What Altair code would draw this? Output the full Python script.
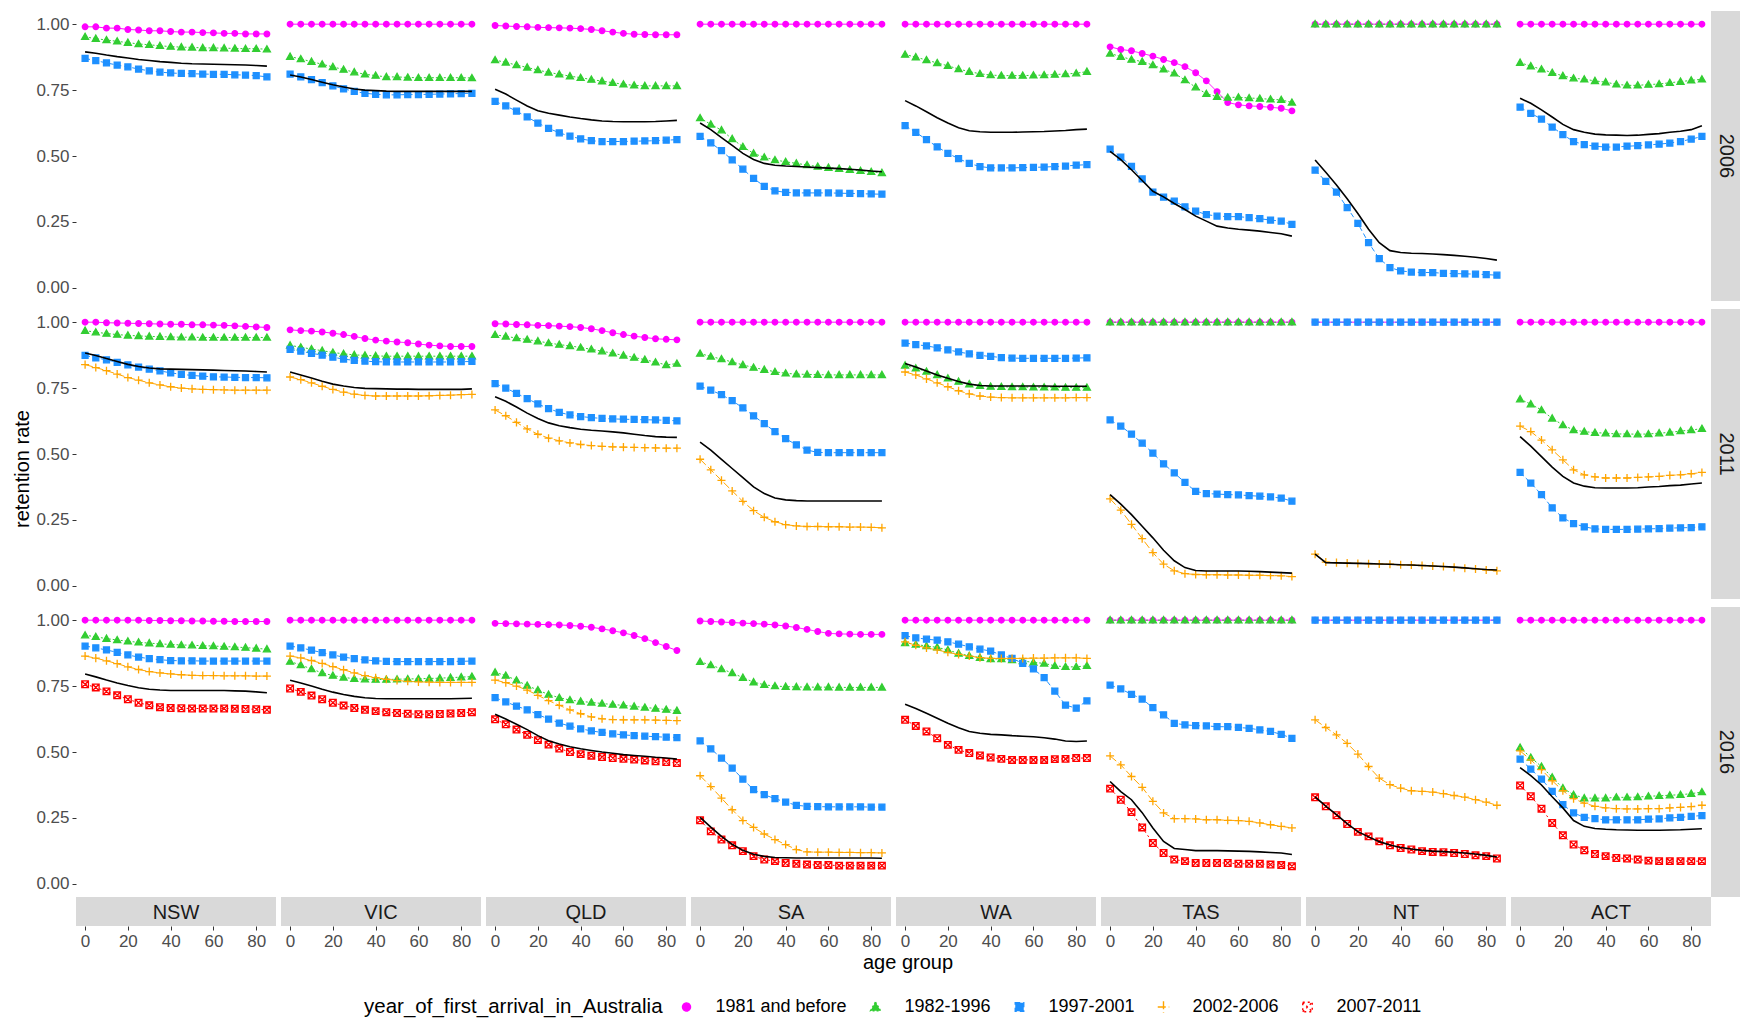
import altair as alt
import pandas as pd

AGES = [0, 5, 10, 15, 20, 25, 30, 35, 40, 45, 50, 55, 60, 65, 70, 75, 80, 85]
STATES = ["NSW", "VIC", "QLD", "SA", "WA", "TAS", "NT", "ACT"]
YEARS = ["2006", "2011", "2016"]
COHORTS = ["1981 and before", "1982-1996", "1997-2001", "2002-2006", "2007-2011"]
KEYS = ["c1981", "c1982", "c1997", "c2002", "c2007"]
X_TICKS = [0, 20, 40, 60, 80]
Y_TICKS = [0.0, 0.25, 0.5, 0.75, 1.0]

FULL = [1.0, 1.0, 1.0, 1.0, 1.0, 1.0, 1.0, 1.0, 1.0, 1.0, 1.0, 1.0, 1.0, 1.0, 1.0, 1.0, 1.0, 1.0]

# ---------------- 2006 ----------------
NSW_2006 = dict(
    c1981=[0.99, 0.99, 0.985, 0.985, 0.98, 0.978, 0.975, 0.975, 0.972, 0.97, 0.97, 0.968, 0.967, 0.965, 0.965, 0.963, 0.963, 0.963],
    c1982=[0.952, 0.945, 0.94, 0.935, 0.93, 0.925, 0.922, 0.918, 0.915, 0.913, 0.912, 0.91, 0.91, 0.909, 0.908, 0.907, 0.907, 0.905],
    c1997=[0.87, 0.862, 0.853, 0.845, 0.838, 0.83, 0.823, 0.818, 0.815, 0.813, 0.812, 0.811, 0.81, 0.81, 0.808, 0.807, 0.805, 0.80],
    total=[0.895, 0.89, 0.883, 0.877, 0.872, 0.866, 0.862, 0.858, 0.855, 0.852, 0.85, 0.849, 0.848, 0.847, 0.846, 0.845, 0.843, 0.841],
)
VIC_2006 = dict(
    c1981=FULL,
    c1982=[0.877, 0.868, 0.858, 0.848, 0.838, 0.828, 0.818, 0.81, 0.805, 0.80, 0.80, 0.798, 0.797, 0.797, 0.797, 0.797, 0.797, 0.796],
    c1997=[0.811, 0.80, 0.79, 0.778, 0.766, 0.755, 0.745, 0.738, 0.734, 0.732, 0.732, 0.733, 0.733, 0.734, 0.735, 0.736, 0.737, 0.738],
    total=[0.807, 0.80, 0.79, 0.78, 0.77, 0.762, 0.754, 0.75, 0.748, 0.746, 0.745, 0.745, 0.745, 0.745, 0.745, 0.745, 0.745, 0.745],
)
QLD_2006 = dict(
    c1981=[0.995, 0.993, 0.991, 0.99, 0.988, 0.987, 0.986, 0.985, 0.983, 0.98, 0.975, 0.97, 0.965, 0.962, 0.961, 0.96, 0.96, 0.96],
    c1982=[0.864, 0.855, 0.845, 0.836, 0.826, 0.817, 0.81, 0.803, 0.797, 0.79, 0.784, 0.778, 0.772, 0.768, 0.766, 0.766, 0.766, 0.766],
    c1997=[0.707, 0.69, 0.67, 0.648, 0.625, 0.605, 0.588, 0.575, 0.565, 0.558, 0.555, 0.555, 0.555, 0.556, 0.557, 0.558, 0.56, 0.562],
    total=[0.753, 0.735, 0.712, 0.69, 0.672, 0.662, 0.655, 0.648, 0.642, 0.637, 0.633, 0.631, 0.63, 0.63, 0.63, 0.631, 0.633, 0.635],
)
SA_2006 = dict(
    c1981=FULL,
    c1982=[0.644, 0.62, 0.598, 0.565, 0.535, 0.51, 0.495, 0.485, 0.478, 0.472, 0.466, 0.46, 0.456, 0.452, 0.448, 0.444, 0.44, 0.436],
    c1997=[0.574, 0.55, 0.52, 0.485, 0.45, 0.415, 0.385, 0.368, 0.362, 0.36, 0.36, 0.36, 0.36, 0.359, 0.358, 0.357, 0.356, 0.355],
    total=[0.625, 0.6, 0.57, 0.54, 0.51, 0.487, 0.472, 0.465, 0.462, 0.46, 0.458, 0.456, 0.454, 0.452, 0.45, 0.447, 0.443, 0.44],
)
WA_2006 = dict(
    c1981=FULL,
    c1982=[0.885, 0.875, 0.864, 0.853, 0.842, 0.83, 0.82, 0.812, 0.807, 0.805, 0.805, 0.805, 0.806, 0.807, 0.809, 0.811, 0.814, 0.82],
    c1997=[0.615, 0.59, 0.562, 0.535, 0.51, 0.49, 0.472, 0.46, 0.455, 0.455, 0.455, 0.456, 0.457, 0.458, 0.46, 0.462, 0.465, 0.467],
    total=[0.71, 0.69, 0.668, 0.645, 0.625, 0.607, 0.596, 0.592, 0.59, 0.59, 0.59, 0.591, 0.592, 0.593, 0.595, 0.597, 0.6, 0.602],
)
TAS_2006 = dict(
    c1981=[0.914, 0.904, 0.899, 0.889, 0.879, 0.866, 0.854, 0.839, 0.816, 0.785, 0.744, 0.703, 0.694, 0.69, 0.688, 0.685, 0.681, 0.671],
    c1982=[0.889, 0.877, 0.866, 0.858, 0.845, 0.829, 0.814, 0.788, 0.761, 0.736, 0.725, 0.722, 0.723, 0.72, 0.718, 0.715, 0.713, 0.703],
    c1997=[0.526, 0.496, 0.461, 0.413, 0.363, 0.344, 0.329, 0.307, 0.291, 0.278, 0.272, 0.27, 0.27, 0.266, 0.262, 0.257, 0.253, 0.241],
    total=[0.518, 0.486, 0.448, 0.407, 0.366, 0.345, 0.32, 0.297, 0.272, 0.253, 0.234, 0.227, 0.222, 0.219, 0.215, 0.21, 0.205, 0.196],
)
NT_2006 = dict(
    c1981=FULL,
    c1982=FULL,
    c1997=[0.446, 0.404, 0.363, 0.304, 0.244, 0.171, 0.111, 0.077, 0.064, 0.06, 0.058, 0.058, 0.055, 0.054, 0.053, 0.052, 0.05, 0.048],
    total=[0.485, 0.438, 0.39, 0.338, 0.282, 0.222, 0.171, 0.141, 0.134, 0.131, 0.13, 0.128, 0.126, 0.123, 0.12, 0.116, 0.111, 0.105],
)
ACT_2006 = dict(
    c1981=FULL,
    c1982=[0.854, 0.841, 0.829, 0.816, 0.804, 0.795, 0.791, 0.785, 0.78, 0.772, 0.768, 0.768, 0.771, 0.773, 0.778, 0.782, 0.787, 0.791],
    c1997=[0.685, 0.662, 0.64, 0.61, 0.581, 0.555, 0.543, 0.537, 0.534, 0.534, 0.537, 0.539, 0.542, 0.545, 0.549, 0.555, 0.564, 0.574],
    total=[0.719, 0.7, 0.675, 0.648, 0.62, 0.6, 0.59, 0.583, 0.58, 0.579, 0.578, 0.579, 0.582, 0.585, 0.59, 0.594, 0.6, 0.615],
)

# ---------------- 2011 ----------------
NSW_2011 = dict(
    c1981=[1.0, 1.0, 0.998, 0.997, 0.996, 0.995, 0.994, 0.993, 0.992, 0.992, 0.99, 0.99, 0.989, 0.988, 0.986, 0.984, 0.982, 0.98],
    c1982=[0.968, 0.962, 0.957, 0.953, 0.95, 0.948, 0.946, 0.945, 0.944, 0.943, 0.943, 0.942, 0.942, 0.942, 0.942, 0.942, 0.942, 0.942],
    c1997=[0.874, 0.865, 0.857, 0.848, 0.838, 0.83, 0.822, 0.815, 0.808, 0.802, 0.798, 0.795, 0.793, 0.792, 0.791, 0.79, 0.79, 0.789],
    c2002=[0.839, 0.828, 0.816, 0.803, 0.79, 0.78, 0.77, 0.762, 0.755, 0.75, 0.747, 0.745, 0.744, 0.743, 0.742, 0.742, 0.742, 0.742],
    total=[0.883, 0.874, 0.862, 0.851, 0.84, 0.832, 0.826, 0.823, 0.822, 0.821, 0.82, 0.819, 0.818, 0.817, 0.816, 0.815, 0.813, 0.811],
)
VIC_2011 = dict(
    c1981=[0.971, 0.968, 0.966, 0.963, 0.958, 0.953, 0.946, 0.938, 0.932, 0.928, 0.925, 0.922, 0.917, 0.913, 0.91, 0.908, 0.908, 0.908],
    c1982=[0.912, 0.905, 0.898, 0.892, 0.885, 0.88, 0.876, 0.874, 0.872, 0.871, 0.871, 0.871, 0.871, 0.871, 0.871, 0.871, 0.871, 0.871],
    c1997=[0.897, 0.89, 0.882, 0.875, 0.867, 0.86, 0.855, 0.852, 0.85, 0.849, 0.849, 0.849, 0.849, 0.849, 0.849, 0.849, 0.85, 0.851],
    c2002=[0.792, 0.782, 0.77, 0.757, 0.745, 0.735, 0.727, 0.722, 0.72, 0.72, 0.72, 0.72, 0.72, 0.721, 0.722, 0.723, 0.725, 0.726],
    total=[0.811, 0.8, 0.788, 0.776, 0.765, 0.758, 0.752, 0.749, 0.748, 0.747, 0.746, 0.746, 0.745, 0.745, 0.745, 0.745, 0.745, 0.747],
)
QLD_2011 = dict(
    c1981=[0.994, 0.993, 0.991, 0.99, 0.988, 0.987, 0.985, 0.983, 0.98, 0.975, 0.968, 0.96, 0.953, 0.947, 0.942, 0.937, 0.935, 0.933],
    c1982=[0.952, 0.946, 0.94, 0.934, 0.928, 0.921, 0.915, 0.91, 0.904, 0.897, 0.89, 0.882, 0.874, 0.866, 0.858, 0.848, 0.838, 0.843],
    c1997=[0.767, 0.75, 0.73, 0.71, 0.69, 0.672, 0.658, 0.648, 0.642, 0.638, 0.635, 0.633, 0.632, 0.631, 0.63, 0.629, 0.628, 0.626],
    c2002=[0.667, 0.645, 0.62, 0.595, 0.575, 0.56, 0.55, 0.542, 0.536, 0.532, 0.529, 0.527, 0.526, 0.525, 0.524, 0.523, 0.522, 0.522],
    total=[0.717, 0.7, 0.678, 0.655, 0.635, 0.618, 0.607, 0.6, 0.594, 0.59, 0.587, 0.584, 0.58, 0.575, 0.57, 0.566, 0.564, 0.563],
)
SA_2011 = dict(
    c1981=FULL,
    c1982=[0.881, 0.87, 0.86, 0.849, 0.838, 0.828, 0.82, 0.812, 0.806, 0.803, 0.802, 0.801, 0.8, 0.8, 0.8, 0.8, 0.8, 0.8],
    c1997=[0.757, 0.742, 0.725, 0.702, 0.675, 0.645, 0.615, 0.585, 0.558, 0.535, 0.515, 0.506, 0.505, 0.505, 0.505, 0.505, 0.505, 0.505],
    c2002=[0.48, 0.44, 0.40, 0.36, 0.32, 0.285, 0.26, 0.243, 0.232, 0.227, 0.225, 0.225, 0.224, 0.224, 0.223, 0.223, 0.222, 0.22],
    total=[0.545, 0.515, 0.48, 0.445, 0.41, 0.375, 0.35, 0.333, 0.326, 0.323, 0.322, 0.322, 0.322, 0.322, 0.322, 0.322, 0.322, 0.322],
)
WA_2011 = dict(
    c1981=FULL,
    c1982=[0.836, 0.825, 0.813, 0.8, 0.787, 0.775, 0.765, 0.759, 0.756, 0.755, 0.754, 0.754, 0.753, 0.753, 0.753, 0.752, 0.752, 0.752],
    c1997=[0.921, 0.915, 0.91, 0.903, 0.895, 0.887, 0.88, 0.874, 0.87, 0.866, 0.864, 0.863, 0.863, 0.863, 0.863, 0.863, 0.864, 0.865],
    c2002=[0.811, 0.8, 0.785, 0.77, 0.755, 0.74, 0.728, 0.72, 0.716, 0.714, 0.713, 0.713, 0.713, 0.713, 0.713, 0.713, 0.714, 0.714],
    total=[0.843, 0.83, 0.815, 0.8, 0.787, 0.775, 0.765, 0.76, 0.758, 0.758, 0.758, 0.758, 0.758, 0.758, 0.757, 0.757, 0.757, 0.757],
)
TAS_2011 = dict(
    c1981=FULL,
    c1982=FULL,
    c1997=[0.629, 0.606, 0.575, 0.541, 0.503, 0.463, 0.428, 0.392, 0.358, 0.35, 0.348, 0.346, 0.345, 0.342, 0.34, 0.337, 0.333, 0.321],
    c2002=[0.33, 0.287, 0.233, 0.179, 0.126, 0.082, 0.057, 0.046, 0.043, 0.042, 0.042, 0.041, 0.041, 0.04, 0.04, 0.039, 0.038, 0.035],
    total=[0.346, 0.31, 0.27, 0.226, 0.182, 0.135, 0.095, 0.069, 0.058, 0.056, 0.056, 0.056, 0.056, 0.055, 0.054, 0.052, 0.05, 0.048],
)
NT_2011 = dict(
    c1981=FULL,
    c1997=FULL,
    c2002=[0.12, 0.09, 0.088, 0.086, 0.085, 0.084, 0.083, 0.082, 0.08, 0.079, 0.077, 0.075, 0.073, 0.07, 0.067, 0.064, 0.06, 0.057],
    total=[0.12, 0.088, 0.087, 0.086, 0.085, 0.084, 0.083, 0.082, 0.08, 0.079, 0.077, 0.075, 0.073, 0.071, 0.068, 0.065, 0.062, 0.06],
)
ACT_2011 = dict(
    c1981=FULL,
    c1982=[0.708, 0.689, 0.667, 0.635, 0.61, 0.591, 0.585, 0.581, 0.579, 0.576, 0.576, 0.575, 0.576, 0.579, 0.582, 0.587, 0.591, 0.596],
    c1997=[0.43, 0.39, 0.346, 0.296, 0.258, 0.236, 0.224, 0.216, 0.214, 0.214, 0.214, 0.215, 0.216, 0.217, 0.219, 0.22, 0.221, 0.224],
    c2002=[0.606, 0.585, 0.553, 0.516, 0.478, 0.44, 0.421, 0.413, 0.409, 0.409, 0.409, 0.411, 0.413, 0.415, 0.419, 0.421, 0.425, 0.43],
    total=[0.566, 0.53, 0.49, 0.45, 0.415, 0.39, 0.378, 0.372, 0.371, 0.371, 0.371, 0.372, 0.375, 0.377, 0.38, 0.382, 0.386, 0.39],
)

# ---------------- 2016 ----------------
NSW_2016 = dict(
    c1981=[1.0, 1.0, 1.0, 1.0, 1.0, 1.0, 0.999, 0.999, 0.998, 0.998, 0.997, 0.997, 0.996, 0.996, 0.995, 0.995, 0.995, 0.995],
    c1982=[0.943, 0.937, 0.93, 0.925, 0.92, 0.916, 0.913, 0.91, 0.908, 0.906, 0.905, 0.903, 0.902, 0.9, 0.898, 0.896, 0.893, 0.89],
    c1997=[0.902, 0.895, 0.887, 0.878, 0.868, 0.86, 0.854, 0.85, 0.847, 0.846, 0.846, 0.845, 0.845, 0.845, 0.845, 0.845, 0.845, 0.845],
    c2002=[0.864, 0.856, 0.846, 0.835, 0.823, 0.813, 0.805, 0.8, 0.796, 0.793, 0.791, 0.79, 0.79, 0.789, 0.789, 0.789, 0.788, 0.788],
    c2007=[0.757, 0.745, 0.73, 0.715, 0.7, 0.687, 0.677, 0.67, 0.667, 0.666, 0.665, 0.665, 0.665, 0.665, 0.664, 0.663, 0.662, 0.66],
    total=[0.796, 0.785, 0.773, 0.762, 0.752, 0.744, 0.738, 0.735, 0.733, 0.733, 0.733, 0.733, 0.733, 0.733, 0.732, 0.731, 0.728, 0.725],
)
VIC_2016 = dict(
    c1981=FULL,
    c1982=[0.843, 0.83, 0.815, 0.8, 0.79, 0.783, 0.778, 0.776, 0.775, 0.775, 0.776, 0.777, 0.778, 0.779, 0.78, 0.782, 0.784, 0.786],
    c1997=[0.902, 0.895, 0.886, 0.877, 0.868, 0.86, 0.854, 0.849, 0.846, 0.844, 0.843, 0.843, 0.843, 0.843, 0.843, 0.843, 0.844, 0.845],
    c2002=[0.864, 0.857, 0.847, 0.836, 0.824, 0.812, 0.8, 0.79, 0.782, 0.776, 0.771, 0.768, 0.766, 0.765, 0.764, 0.764, 0.764, 0.764],
    c2007=[0.741, 0.728, 0.714, 0.7, 0.687, 0.676, 0.667, 0.66, 0.655, 0.651, 0.648, 0.645, 0.643, 0.643, 0.644, 0.646, 0.648, 0.651],
    total=[0.772, 0.762, 0.75, 0.738, 0.727, 0.718, 0.711, 0.706, 0.703, 0.702, 0.702, 0.702, 0.702, 0.702, 0.702, 0.702, 0.703, 0.704],
)
QLD_2016 = dict(
    c1981=[0.988, 0.987, 0.986, 0.985, 0.984, 0.983, 0.982, 0.98, 0.977, 0.973, 0.967, 0.96, 0.952, 0.942, 0.93, 0.915, 0.9, 0.885],
    c1982=[0.802, 0.79, 0.772, 0.752, 0.735, 0.718, 0.706, 0.697, 0.692, 0.688, 0.684, 0.68, 0.677, 0.673, 0.669, 0.665, 0.661, 0.657],
    c1997=[0.706, 0.69, 0.674, 0.66, 0.642, 0.625, 0.61, 0.598, 0.588, 0.58, 0.574, 0.569, 0.565, 0.562, 0.56, 0.558, 0.556, 0.555],
    c2002=[0.773, 0.763, 0.75, 0.735, 0.715, 0.695, 0.677, 0.66, 0.645, 0.633, 0.626, 0.623, 0.622, 0.622, 0.622, 0.621, 0.62, 0.619],
    c2007=[0.624, 0.605, 0.585, 0.565, 0.545, 0.528, 0.513, 0.5, 0.492, 0.486, 0.481, 0.477, 0.474, 0.471, 0.468, 0.465, 0.462, 0.458],
    total=[0.643, 0.625, 0.605, 0.585, 0.562, 0.543, 0.53, 0.52, 0.512, 0.506, 0.5, 0.495, 0.49, 0.487, 0.484, 0.48, 0.477, 0.473],
)
SA_2016 = dict(
    c1981=[0.997, 0.995, 0.993, 0.991, 0.989, 0.987, 0.985, 0.982, 0.978, 0.972, 0.965, 0.957, 0.95, 0.948, 0.947, 0.946, 0.946, 0.946],
    c1982=[0.842, 0.83, 0.815, 0.8, 0.782, 0.765, 0.755, 0.75, 0.748, 0.747, 0.746, 0.746, 0.746, 0.745, 0.745, 0.745, 0.745, 0.745],
    c1997=[0.542, 0.512, 0.477, 0.439, 0.397, 0.357, 0.338, 0.323, 0.31, 0.298, 0.294, 0.293, 0.292, 0.292, 0.292, 0.292, 0.291, 0.291],
    c2002=[0.41, 0.369, 0.325, 0.281, 0.24, 0.214, 0.189, 0.168, 0.149, 0.13, 0.121, 0.12, 0.12, 0.119, 0.119, 0.118, 0.118, 0.117],
    c2007=[0.241, 0.199, 0.168, 0.146, 0.124, 0.105, 0.092, 0.086, 0.079, 0.076, 0.073, 0.071, 0.071, 0.069, 0.069, 0.069, 0.069, 0.069],
    total=[0.252, 0.215, 0.18, 0.15, 0.127, 0.112, 0.104, 0.1, 0.099, 0.098, 0.098, 0.098, 0.098, 0.098, 0.098, 0.098, 0.098, 0.097],
)
WA_2016 = dict(
    c1981=FULL,
    c1982=[0.914, 0.908, 0.902, 0.897, 0.887, 0.874, 0.865, 0.858, 0.853, 0.853, 0.849, 0.845, 0.84, 0.836, 0.827, 0.823, 0.823, 0.827],
    c1997=[0.941, 0.933, 0.928, 0.924, 0.918, 0.909, 0.899, 0.89, 0.883, 0.868, 0.855, 0.836, 0.815, 0.782, 0.731, 0.678, 0.666, 0.694],
    c2002=[0.918, 0.905, 0.895, 0.887, 0.878, 0.87, 0.864, 0.858, 0.855, 0.855, 0.855, 0.855, 0.856, 0.856, 0.857, 0.857, 0.857, 0.855],
    c2007=[0.622, 0.599, 0.578, 0.552, 0.527, 0.508, 0.496, 0.487, 0.479, 0.474, 0.47, 0.47, 0.47, 0.47, 0.473, 0.474, 0.477, 0.477],
    total=[0.681, 0.665, 0.647, 0.628, 0.609, 0.592, 0.578, 0.571, 0.567, 0.565, 0.562, 0.56, 0.558, 0.554, 0.549, 0.542, 0.54, 0.542],
)
TAS_2016 = dict(
    c1981=FULL,
    c1982=FULL,
    c1997=[0.754, 0.739, 0.719, 0.701, 0.668, 0.641, 0.609, 0.603, 0.6, 0.599, 0.596, 0.596, 0.593, 0.59, 0.584, 0.578, 0.567, 0.552],
    c2002=[0.485, 0.451, 0.407, 0.366, 0.313, 0.269, 0.247, 0.247, 0.246, 0.243, 0.243, 0.241, 0.24, 0.237, 0.231, 0.224, 0.218, 0.212],
    c2007=[0.361, 0.319, 0.272, 0.214, 0.155, 0.117, 0.092, 0.086, 0.079, 0.079, 0.079, 0.079, 0.076, 0.076, 0.076, 0.073, 0.071, 0.067],
    total=[0.388, 0.35, 0.319, 0.27, 0.212, 0.161, 0.134, 0.13, 0.126, 0.126, 0.126, 0.125, 0.124, 0.123, 0.121, 0.119, 0.117, 0.111],
)
NT_2016 = dict(
    c1981=FULL,
    c1997=FULL,
    c2002=[0.622, 0.593, 0.565, 0.533, 0.492, 0.445, 0.401, 0.376, 0.363, 0.353, 0.351, 0.348, 0.342, 0.335, 0.329, 0.319, 0.31, 0.298],
    c2007=[0.328, 0.294, 0.26, 0.227, 0.197, 0.18, 0.161, 0.146, 0.136, 0.13, 0.124, 0.121, 0.12, 0.117, 0.113, 0.108, 0.105, 0.096],
    total=[0.33, 0.295, 0.262, 0.228, 0.198, 0.178, 0.16, 0.147, 0.138, 0.132, 0.127, 0.124, 0.122, 0.12, 0.117, 0.113, 0.108, 0.102],
)
ACT_2016 = dict(
    c1981=FULL,
    c1982=[0.517, 0.479, 0.445, 0.404, 0.363, 0.338, 0.325, 0.325, 0.325, 0.328, 0.328, 0.329, 0.332, 0.334, 0.336, 0.338, 0.342, 0.348],
    c1997=[0.473, 0.435, 0.397, 0.351, 0.3, 0.269, 0.252, 0.247, 0.243, 0.243, 0.243, 0.243, 0.245, 0.246, 0.25, 0.252, 0.256, 0.259],
    c2002=[0.504, 0.47, 0.433, 0.391, 0.353, 0.323, 0.306, 0.294, 0.288, 0.285, 0.284, 0.284, 0.285, 0.285, 0.288, 0.29, 0.293, 0.298],
    c2007=[0.373, 0.332, 0.285, 0.231, 0.184, 0.149, 0.127, 0.113, 0.105, 0.098, 0.096, 0.092, 0.088, 0.086, 0.086, 0.086, 0.086, 0.086],
    total=[0.441, 0.41, 0.375, 0.33, 0.288, 0.24, 0.218, 0.21, 0.207, 0.205, 0.204, 0.203, 0.203, 0.203, 0.204, 0.205, 0.207, 0.209],
)

PANELS = {
    "2006": [NSW_2006, VIC_2006, QLD_2006, SA_2006, WA_2006, TAS_2006, NT_2006, ACT_2006],
    "2011": [NSW_2011, VIC_2011, QLD_2011, SA_2011, WA_2011, TAS_2011, NT_2011, ACT_2011],
    "2016": [NSW_2016, VIC_2016, QLD_2016, SA_2016, WA_2016, TAS_2016, NT_2016, ACT_2016],
}

COLORS = ["#FF00FF", "#32CD32", "#1E90FF", "#FFA500", "#FF0000"]
FILLS = ["#FF00FF", "#32CD32", "#1E90FF", "transparent", "transparent"]
SHAPES = [
    "M-0.8,0A0.8,0.8,0,1,1,0.8,0A0.8,0.8,0,1,1,-0.8,0Z",
    "M0,-1L1,0.75L-1,0.75Z",
    "M-0.85,-0.85H0.85V0.85H-0.85Z",
    "M-1.15,0H1.15M0,-1.15V1.15",
    "M-0.95,-0.95H0.95V0.95H-0.95ZM-0.95,-0.95L0.95,0.95M-0.95,0.95L0.95,-0.95",
]
DASHES = [[1, 0], [2, 2], [5, 3], [8, 3], [2, 3]]

rows = []
for yr in YEARS:
    for st, panel in zip(STATES, PANELS[yr]):
        for key, name in zip(KEYS, COHORTS):
            if key in panel:
                for a, v in zip(AGES, panel[key]):
                    rows.append({"year": yr, "state": st, "series": name, "age": a, "value": v})
        for a, v in zip(AGES, panel["total"]):
            rows.append({"year": yr, "state": st, "series": "total", "age": a, "value": v})
df = pd.DataFrame(rows)

W, H = 200, 290
STRIP = 29
FONT = "Liberation Sans"

x_enc = alt.X("age:Q", scale=alt.Scale(domain=[-4.25, 89.25], nice=False, zero=False),
              axis=alt.Axis(values=X_TICKS, title=None, offset=STRIP, labelPadding=3))
y_enc = alt.Y("value:Q", scale=alt.Scale(domain=[-0.05, 1.05], nice=False, zero=False),
              axis=alt.Axis(values=Y_TICKS, format=".2f", title=None, labelPadding=3))

legend = alt.Legend(
    title="year_of_first_arrival_in_Australia", orient="none", legendX=288, legendY=987,
    direction="horizontal", titleOrient="left", titleFontSize=20.5, titleFontWeight="normal",
    titleColor="black", titleLimit=0, labelLimit=0, labelFontSize=18, labelColor="black",
    labelOffset=20, columnPadding=19, titlePadding=14.5, symbolStrokeWidth=1.4,
)
color_enc = alt.Color("series:N", scale=alt.Scale(domain=COHORTS, range=COLORS), legend=legend)
shape_enc = alt.Shape("series:N", scale=alt.Scale(domain=COHORTS, range=SHAPES), legend=legend)
fill_enc = alt.Fill("series:N", scale=alt.Scale(domain=COHORTS, range=FILLS), legend=legend)

base = alt.Chart()
cohort = base.transform_filter(alt.datum.series != "total")

lines = cohort.mark_line(strokeWidth=1).encode(
    x=x_enc, y=y_enc, color=color_enc,
    strokeDash=alt.StrokeDash("series:N", scale=alt.Scale(domain=COHORTS, range=DASHES), legend=None),
)
points = cohort.mark_point(filled=False, size=49, strokeWidth=1.3, opacity=1).encode(
    x=x_enc, y=y_enc, color=color_enc, shape=shape_enc, fill=fill_enc,
)
total = base.transform_filter(alt.datum.series == "total").mark_line(
    color="black", strokeWidth=1.6).encode(x=x_enc, y=y_enc)

strip_b = base.transform_filter(alt.datum.year == "2016").transform_aggregate(
    n="count()", groupby=["year", "state"])
strip_b_rect = strip_b.mark_rect(fill="#D9D9D9").encode(
    x=alt.value(0), x2=alt.value(W), y=alt.value(H), y2=alt.value(H + STRIP))
strip_b_text = strip_b.mark_text(fontSize=20, color="#1A1A1A", font=FONT, baseline="middle").encode(
    x=alt.value(W / 2), y=alt.value(H + STRIP / 2 + 1), text="state:N")

strip_r = base.transform_filter(alt.datum.state == "ACT").transform_aggregate(
    n="count()", groupby=["year", "state"])
strip_r_rect = strip_r.mark_rect(fill="#D9D9D9").encode(
    x=alt.value(W), x2=alt.value(W + STRIP), y=alt.value(0), y2=alt.value(H))
strip_r_text = strip_r.mark_text(fontSize=20, color="#1A1A1A", font=FONT, angle=90, baseline="middle").encode(
    x=alt.value(W + STRIP / 2), y=alt.value(H / 2), text="year:N")

layered = alt.layer(
    strip_b_rect, strip_b_text, strip_r_rect, strip_r_text, lines, points, total, data=df
).properties(width=W, height=H)

chart = layered.facet(
    row=alt.Row("year:N", sort=YEARS,
                header=alt.Header(labels=False, title="retention rate", titleOrient="left",
                                  titleFontSize=20, titleFontWeight="normal", titleColor="black",
                                  titleFont=FONT, titlePadding=-8)),
    column=alt.Column("state:N", sort=STATES,
                      header=alt.Header(labels=False, title="age group", titleOrient="bottom",
                                        titleFontSize=20, titleFontWeight="normal", titleColor="black",
                                        titleFont=FONT, titlePadding=-6)),
    spacing={"row": 8, "column": 5},
).properties(
    bounds="flush",
    background="white",
    padding={"left": 12, "top": 11, "right": 0, "bottom": 0},
).configure_view(stroke=None).configure_axis(
    grid=False, domain=False, tickColor="#333333", tickSize=4, tickWidth=1,
    labelColor="#4D4D4D", labelFontSize=17, labelFont=FONT,
).configure_legend(labelFont=FONT, titleFont=FONT)

chart.save("out.html", embed_options={"renderer": "svg", "actions": False})
